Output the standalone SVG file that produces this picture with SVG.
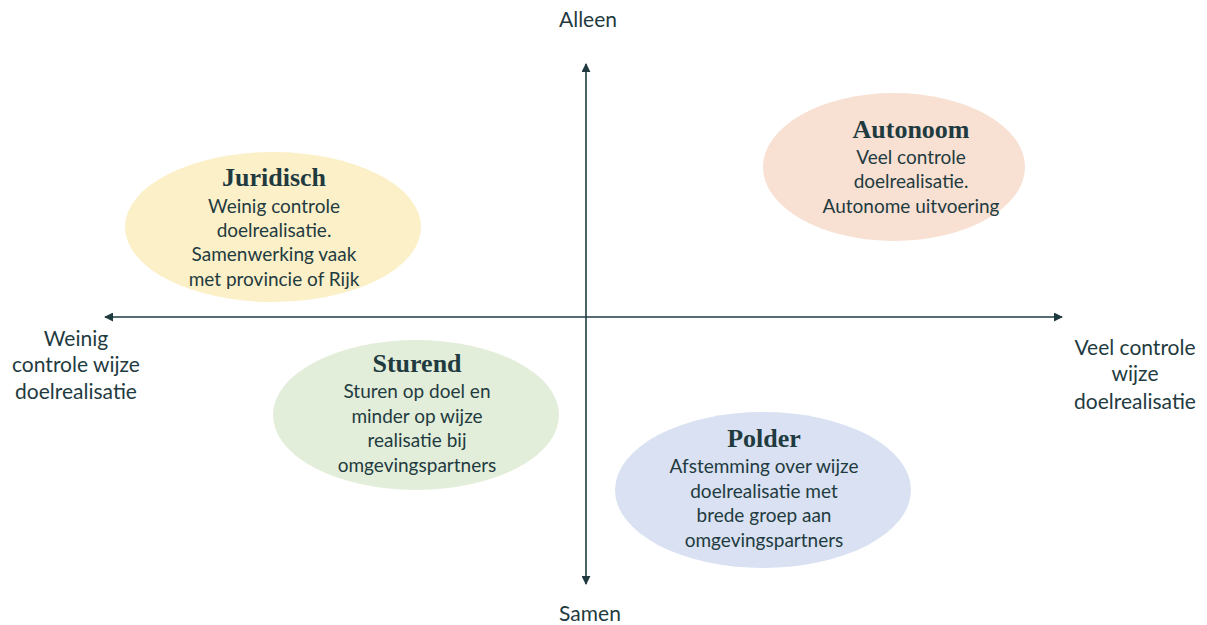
<svg xmlns="http://www.w3.org/2000/svg" width="1207" height="625" viewBox="0 0 1207 625">
<defs>
<marker id="ah" viewBox="0 0 10 10" refX="9" refY="5" markerWidth="9" markerHeight="9" markerUnits="userSpaceOnUse" orient="auto-start-reverse">
<path d="M0,0 L10,5 L0,10 z" fill="#1f3b40"/>
</marker>
<style>
.ax{stroke:#1f3b40;stroke-width:1.6;fill:none}
.t{font-family:"Liberation Serif",serif;font-weight:bold;font-size:26px;fill:#1f3b3f;text-anchor:middle}
.b{font-family:Lato,"Liberation Sans",sans-serif;font-size:19px;fill:#1f3b3f;text-anchor:middle}
.l{font-family:Lato,"Liberation Sans",sans-serif;font-size:21px;fill:#1f3b3f;text-anchor:middle}
</style>
</defs>
<rect width="1207" height="625" fill="#ffffff"/>
<g id="connectors">
<line class="ax" x1="586" y1="584" x2="586" y2="64" marker-start="url(#ah)" marker-end="url(#ah)"/>
<line class="ax" x1="105" y1="317" x2="1062" y2="317" marker-start="url(#ah)" marker-end="url(#ah)"/>
</g>
<g id="axis-labels">
<text class="l" x="588" y="27">Alleen</text>
<text class="l" x="590" y="621">Samen</text>
<text class="l" x="76" y="346">Weinig</text>
<text class="l" x="76" y="372">controle wijze</text>
<text class="l" x="76" y="399">doelrealisatie</text>
<text class="l" x="1135" y="355">Veel controle</text>
<text class="l" x="1135" y="381">wijze</text>
<text class="l" x="1135" y="409">doelrealisatie</text>
</g>
<g id="juridisch">
<ellipse cx="273" cy="227" rx="148" ry="75" fill="#fcf0c9"/>
<text class="t" x="274" y="186">Juridisch</text>
<text class="b" x="274" y="213">Weinig controle</text>
<text class="b" x="274" y="237">doelrealisatie.</text>
<text class="b" x="274" y="261">Samenwerking vaak</text>
<text class="b" x="274" y="286">met provincie of Rijk</text>
</g>
<g id="autonoom">
<ellipse cx="894" cy="167" rx="131" ry="74" fill="#f8e0d3"/>
<text class="t" x="911" y="138">Autonoom</text>
<text class="b" x="911" y="164">Veel controle</text>
<text class="b" x="911" y="188">doelrealisatie.</text>
<text class="b" x="911" y="213">Autonome uitvoering</text>
</g>
<g id="sturend">
<ellipse cx="416" cy="415" rx="143" ry="75" fill="#e3eeda"/>
<text class="t" x="417" y="372">Sturend</text>
<text class="b" x="417" y="398">Sturen op doel en</text>
<text class="b" x="417" y="423">minder op wijze</text>
<text class="b" x="417" y="447">realisatie bij</text>
<text class="b" x="417" y="472">omgevingspartners</text>
</g>
<g id="polder">
<ellipse cx="763" cy="490" rx="148" ry="78" fill="#d9e1f2"/>
<text class="t" x="764" y="447">Polder</text>
<text class="b" x="764" y="473">Afstemming over wijze</text>
<text class="b" x="764" y="498">doelrealisatie met</text>
<text class="b" x="764" y="522">brede groep aan</text>
<text class="b" x="764" y="547">omgevingspartners</text>
</g>
</svg>
